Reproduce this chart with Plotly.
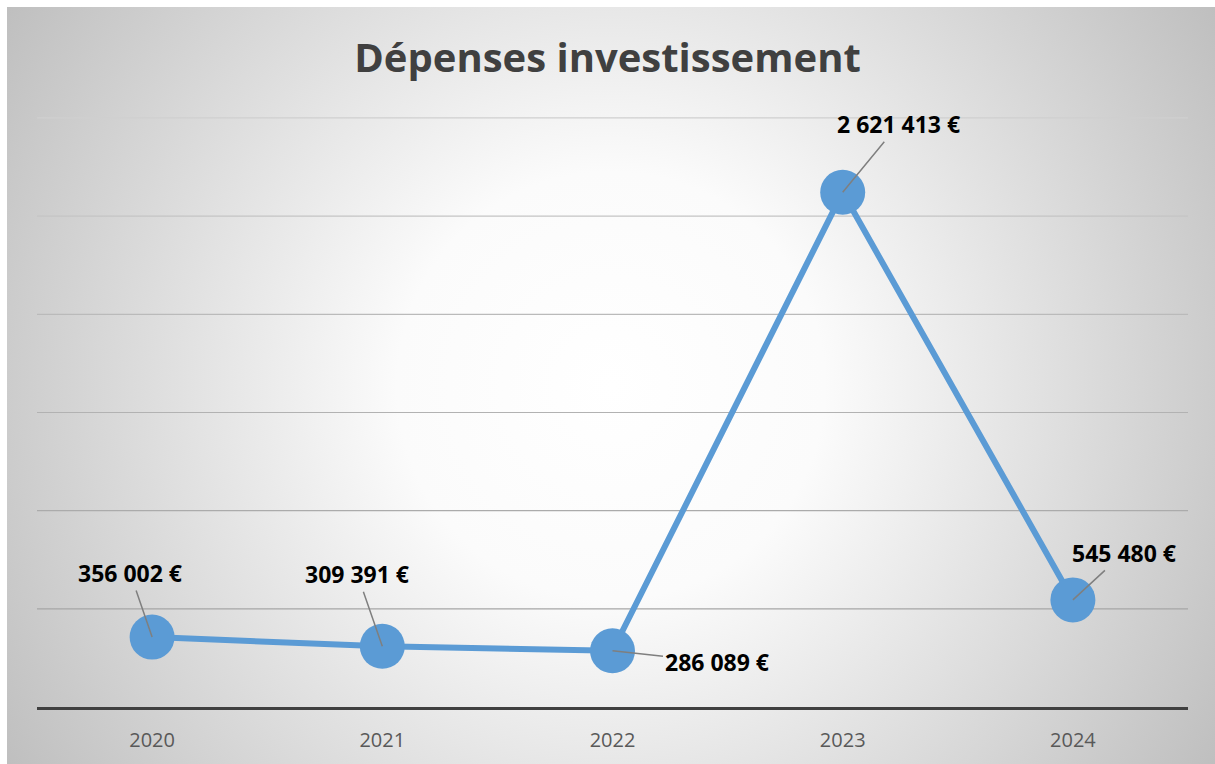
import plotly.graph_objects as go
import urllib.parse

years = ["2020", "2021", "2022", "2023", "2024"]
values = [356002, 309391, 286089, 2621413, 545480]
labels = ["356 002 €", "309 391 €", "286 089 €", "2 621 413 €", "545 480 €"]
label_dx = [-22, -25, 104, 56, 51]
label_dy = [-64, -72, 11, -68, -47]
grid_vals = [500000, 1000000, 1500000, 2000000, 2500000, 3000000]
grid_colors = ["#a6a6a6", "#ababab", "#b2b2b2", "#bababa", "#c4c4c4", "#cfcfcf"]

W, H = 1215, 764
L, R, T, B = 37, 27, 116, 57
pw, ph = W - L - R, H - T - B

fig = go.Figure()
fig.add_trace(go.Scatter(
    x=years, y=values, mode="lines+markers",
    line=dict(color="#5b9bd5", width=6),
    marker=dict(size=45, color="#5b9bd5"),
    hoverinfo="skip", showlegend=False,
))

for gv, gc in zip(grid_vals, grid_colors):
    fig.add_shape(type="line", xref="paper", yref="y", x0=0, x1=1, y0=gv, y1=gv,
                  line=dict(color=gc, width=1.2), layer="below")

for i, (v, t, dx, dy) in enumerate(zip(values, labels, label_dx, label_dy)):
    fig.add_annotation(
        x=i, y=v, xref="x", yref="y", text="<b>%s</b>" % t, showarrow=True, arrowhead=0,
        arrowwidth=1.5, arrowcolor="#7f7f7f", standoff=0,
        ax=dx, ay=dy, font=dict(family="Open Sans", size=23, color="#000000"),
    )

# radial gradient background via svg image
bw, bh = W - 7, H - 7
svg = (
    f'<svg xmlns="http://www.w3.org/2000/svg" width="{bw}" height="{bh}" viewBox="0 0 {bw} {bh}" preserveAspectRatio="none">'
    f'<defs><radialGradient id="g" gradientUnits="userSpaceOnUse" cx="{bw*0.5}" cy="{bh*0.5}" r="{(bw**2+bh**2)**0.5/2}">'
    '<stop offset="0" stop-color="#ffffff"/><stop offset="0.3" stop-color="#fbfbfb"/>'
    '<stop offset="1" stop-color="#bfbfbf"/></radialGradient></defs>'
    f'<rect x="0" y="0" width="{bw}" height="{bh}" fill="url(#g)"/></svg>'
)
src = "data:image/svg+xml;charset=utf-8," + urllib.parse.quote(svg)
x0 = (7 - L) / pw
y0 = (H - B - 7) / ph
fig.add_layout_image(dict(
    source=src, xref="paper", yref="paper", x=x0, y=y0,
    sizex=bw / pw, sizey=bh / ph, sizing="stretch",
    xanchor="left", yanchor="top", layer="below",
))

fig.update_layout(
    width=W, height=H,
    margin=dict(l=L, r=R, t=T, b=B),
    paper_bgcolor="#ffffff", plot_bgcolor="rgba(0,0,0,0)",
    title=dict(text="<b>Dépenses investissement</b>", x=0.5, xanchor="center",
               y=1 - 58 / H, yanchor="middle",
               font=dict(family="Open Sans", size=40, color="#404040")),
    xaxis=dict(type="category", range=[-0.5, 4.5], showgrid=False,
               showline=True, linecolor="#404040", linewidth=3,
               ticks="", tickfont=dict(family="Open Sans", size=20, color="#595959"),
               ticklabelstandoff=13, zeroline=False),
    yaxis=dict(range=[0, 3010000], tickvals=grid_vals,
               showgrid=False, showticklabels=False,
               zeroline=False, showline=False),
)

fig.write_html("out.html", config={"displayModeBar": False},
               post_script="document.body.style.margin='0';")
